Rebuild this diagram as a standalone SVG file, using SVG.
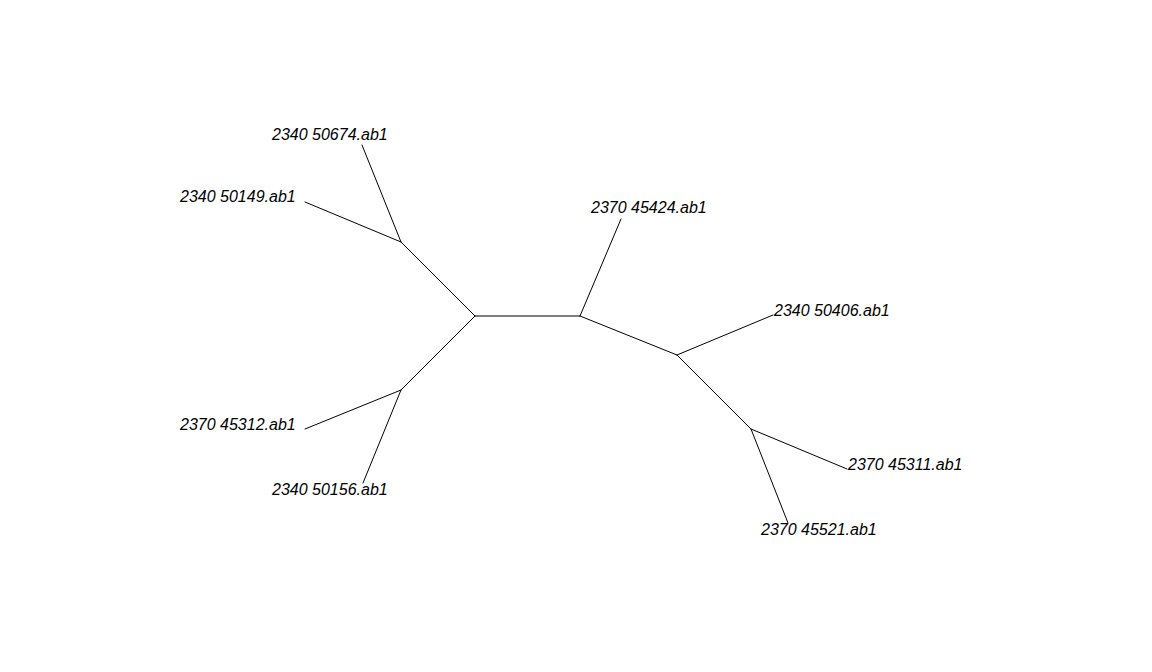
<svg xmlns="http://www.w3.org/2000/svg" width="1152" height="672" viewBox="0 0 1152 672">
<style>
.e{stroke:#000;stroke-width:1;fill:none;stroke-linecap:round}
.t{font-family:"Liberation Sans",Arial,sans-serif;font-size:16px;font-style:italic;fill:#000}
</style>
<rect width="1152" height="672" fill="#fff"/>
<g id="connectors">
<line class="e" x1="475" y1="316" x2="580" y2="316"/>
<line class="e" x1="475" y1="316" x2="401" y2="242"/>
<line class="e" x1="401" y1="242" x2="362" y2="145"/>
<line class="e" x1="401" y1="242" x2="305" y2="202"/>
<line class="e" x1="475" y1="316" x2="401" y2="390"/>
<line class="e" x1="401" y1="390" x2="305" y2="429"/>
<line class="e" x1="401" y1="390" x2="363" y2="483"/>
<line class="e" x1="580" y1="316" x2="621" y2="219"/>
<line class="e" x1="580" y1="316" x2="677" y2="355"/>
<line class="e" x1="677" y1="355" x2="773" y2="315"/>
<line class="e" x1="677" y1="355" x2="751" y2="429"/>
<line class="e" x1="751" y1="429" x2="847" y2="469"/>
<line class="e" x1="751" y1="429" x2="788" y2="523"/>
</g>
<g id="n1"><text class="t" x="272" y="140">2340 50674.ab1</text></g>
<g id="n2"><text class="t" x="180" y="202">2340 50149.ab1</text></g>
<g id="n3"><text class="t" x="180" y="430">2370 45312.ab1</text></g>
<g id="n4"><text class="t" x="272" y="495">2340 50156.ab1</text></g>
<g id="n5"><text class="t" x="591" y="213">2370 45424.ab1</text></g>
<g id="n6"><text class="t" x="774" y="316">2340 50406.ab1</text></g>
<g id="n7"><text class="t" x="848" y="470">2370 45311.ab1</text></g>
<g id="n8"><text class="t" x="761" y="535">2370 45521.ab1</text></g>
</svg>
